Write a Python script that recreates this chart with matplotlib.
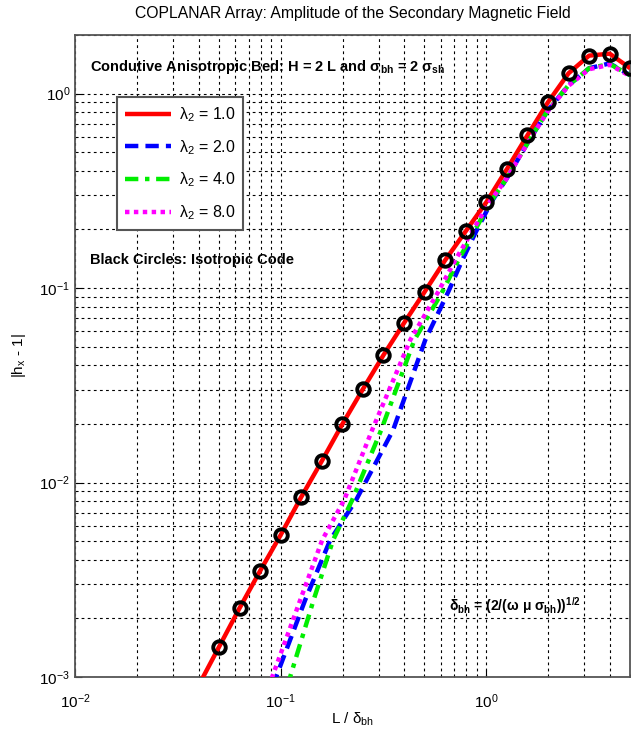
import numpy as np
import matplotlib
matplotlib.use("Agg")
import matplotlib.pyplot as plt

plt.rcParams['font.family'] = ['Liberation Sans', 'DejaVu Sans']
plt.rcParams['mathtext.fontset'] = 'custom'
plt.rcParams['mathtext.rm'] = 'Liberation Sans'
plt.rcParams['mathtext.it'] = 'Liberation Sans:italic'
plt.rcParams['mathtext.bf'] = 'Liberation Sans:bold'
plt.rcParams['mathtext.default'] = 'regular'

# ---- data (log10 values) ----
iso_log_x = [-1.3, -1.2, -1.1, -1.0, -0.9, -0.8, -0.7, -0.6, -0.5, -0.4, -0.3,
             -0.2, -0.1, 0.0, 0.1, 0.2, 0.3, 0.4, 0.5, 0.6, 0.7]
iso_log_y = [-2.846, -2.646, -2.455, -2.27, -2.075, -1.89, -1.70, -1.52, -1.345,
             -1.18, -1.02, -0.857, -0.708, -0.559, -0.389, -0.215, -0.045, 0.104,
             0.195, 0.205, 0.13]

red_log_x = [-1.4] + iso_log_x
red_log_y = [-3.046] + iso_log_y

blue_log_x = [-1.04, -1.022, -0.881, -0.759, -0.633, -0.453, -0.297, -0.185, -0.117, -0.049, 0.024,
              0.1, 0.2, 0.3, 0.4, 0.5, 0.6, 0.7]
blue_log_y = [-3.05, -3.0, -2.605, -2.296, -2.09, -1.73, -1.268, -1.02, -0.857, -0.708, -0.559,
              -0.436, -0.256, -0.086, 0.043, 0.13, 0.155, 0.094]

green_log_x = [-0.97, -0.954, -0.84, -0.745, -0.652, -0.511, -0.35, -0.214, -0.136, -0.058, 0.02,
               0.1, 0.2, 0.3, 0.4, 0.5, 0.6, 0.7]
green_log_y = [-3.05, -3.0, -2.605, -2.296, -2.09, -1.73, -1.268, -1.02, -0.857, -0.708, -0.559,
               -0.436, -0.256, -0.086, 0.043, 0.13, 0.152, 0.094]

mag_log_x = [-1.058, -1.041, -0.905, -0.798, -0.691, -0.555, -0.37, -0.234, -0.151, -0.068, 0.015,
             0.1, 0.2, 0.3, 0.4, 0.5, 0.6, 0.7]
mag_log_y = [-3.05, -3.0, -2.605, -2.296, -2.09, -1.73, -1.268, -1.02, -0.857, -0.708, -0.559,
             -0.436, -0.256, -0.09, 0.04, 0.125, 0.148, 0.09]

labels = [r'$\lambda_2$ = 1.0', r'$\lambda_2$ = 2.0', r'$\lambda_2$ = 4.0', r'$\lambda_2$ = 8.0']

def p10(a):
    return 10.0 ** np.asarray(a)

fig = plt.figure(figsize=(6.35, 7.32), dpi=100)
ax = fig.add_axes([75/635, 55/732, 555/635, 642/732])
ax.set_xscale('log')
ax.set_yscale('log')

ax.plot(p10(red_log_x), p10(red_log_y), color='red', lw=3.2, solid_capstyle='butt', label=labels[0], zorder=3)
ax.plot(p10(blue_log_x), p10(blue_log_y), color='blue', lw=3.2, ls=(0, (3, 1.6)), label=labels[1], zorder=3)
ax.plot(p10(green_log_x), p10(green_log_y), color='#00ee00', lw=3.2, ls=(0, (3, 1.5, 1, 1.5)), label=labels[2], zorder=3)
ax.plot(p10(mag_log_x), p10(mag_log_y), color='magenta', lw=3.2, ls=(0, (1, 1)), label=labels[3], zorder=3)
ax.plot(p10(iso_log_x), p10(iso_log_y), ls='none', marker='o', ms=9, mfc='none', mec='black', mew=2.8, zorder=4)

ax.set_xlim(0.01, 5)
ax.set_ylim(1e-3, 2)

ax.grid(True, which='both', color='black', ls=(0, (2.5, 3)), lw=0.8)
ax.tick_params(which='both', direction='in', labelsize=11, top=False, right=False)
ax.tick_params(which='major', length=5)
ax.tick_params(which='minor', length=2.5)
ax.tick_params(axis='x', which='both', pad=11)
for s in ax.spines.values():
    s.set_color('#555555')
    s.set_linewidth(1.3)

ax.set_title('COPLANAR Array: Amplitude of the Secondary Magnetic Field', fontsize=11.3, pad=12)
ax.set_xlabel(r'L / $\delta_{bh}$', fontsize=11, labelpad=0)
ax.set_ylabel(r'|h$_x$ - 1|', fontsize=11, labelpad=8)

ax.text(0.027, 0.950, r'Condutive Anisotropic Bed: H = 2 L and $\mathbf{\sigma_{bh}}$ = 2 $\mathbf{\sigma_{sh}}$',
        transform=ax.transAxes, fontsize=10.5, fontweight='bold', va='center', ha='left')
ax.text(0.027, 0.650, 'Black Circles: Isotropic Code', transform=ax.transAxes,
        fontsize=10.5, fontweight='bold', va='center', ha='left')
ax.text(0.674, 0.111, r'$\mathbf{\delta_{bh}}$ = (2/($\mathbf{\omega}$ $\mathbf{\mu}$ $\mathbf{\sigma_{bh}}$))$^{\mathbf{1/2}}$',
        transform=ax.transAxes, fontsize=10, fontweight='bold', va='center', ha='left')

leg = ax.legend(loc='upper left', bbox_to_anchor=(0.0757, 0.903), borderaxespad=0,
                fontsize=11.5, handlelength=2.9, labelspacing=0.88, fancybox=False,
                framealpha=1, edgecolor='#555555', borderpad=0.5, handletextpad=0.45)
leg.get_frame().set_linewidth(1.5)

fig.savefig('out.png', dpi=100)
